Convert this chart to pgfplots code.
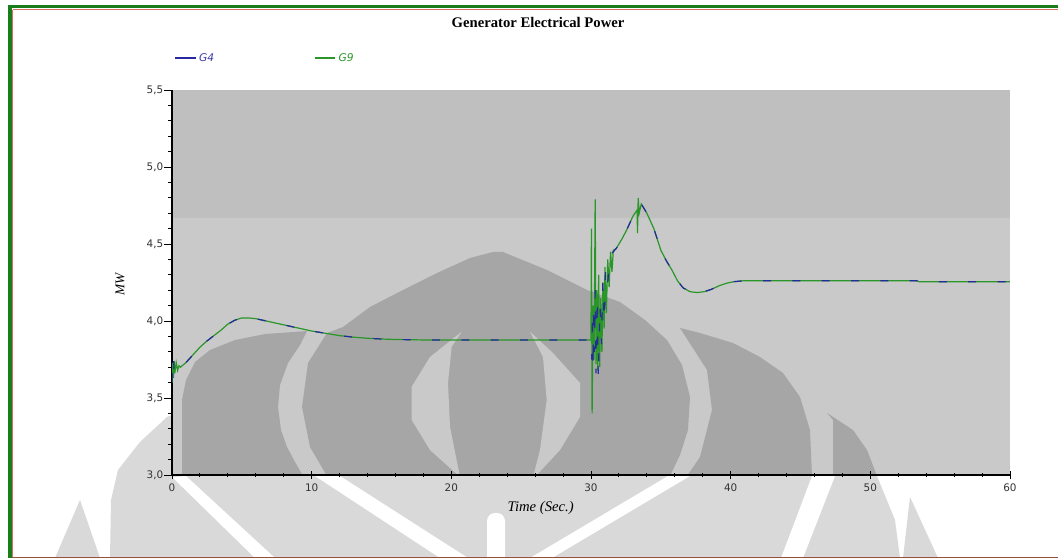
\documentclass[border=0pt]{standalone}
\usepackage{pgfplots}
\pgfplotsset{compat=1.18}
\usepackage{fontspec}
\newfontfamily\dvs{DejaVu Sans}
\newfontfamily\lser{Liberation Serif}
\definecolor{g4blue}{RGB}{40,40,160}
\definecolor{g4text}{RGB}{60,60,170}
\definecolor{g9green}{RGB}{40,150,40}
\definecolor{bgup}{RGB}{191,191,191}
\definecolor{bglow}{RGB}{201,201,201}
\definecolor{logodark}{RGB}{166,166,166}
\definecolor{logolight}{RGB}{217,217,217}
\definecolor{framegreen}{RGB}{25,125,25}
\definecolor{framered}{RGB}{215,110,95}
\definecolor{framebrown}{RGB}{150,80,60}

\begin{document}
\begin{tikzpicture}
\path[use as bounding box, fill=white] (0,0) rectangle (793.5pt,418.5pt);
\begin{scope}[shift={(0pt,418.5pt)}, x=0.75pt, y=-0.75pt]
  % watermark outside the plot area (light grey on white)
  \fill[logolight] (110,558) -- (111,500) -- (118,470) -- (140,442) -- (167,417) -- (172,415) -- (172,476)
     -- (877,476) -- (895,520) -- (900,558) -- cycle;
  \fill[logolight] (80,500) -- (100,558) -- (55,558) -- cycle;
  \fill[logolight] (910,497) -- (938,558) -- (903,558) -- cycle;
  \fill[white] (172,477) -- (186,476) -- (275,558) -- (255,558) -- cycle;
  \fill[white] (315,476) -- (340,476) -- (468,558) -- (440,558) -- cycle;
  \fill[white] (668,476) -- (690,476) -- (552,558) -- (530,558) -- cycle;
  \fill[white] (812,476) -- (835,476) -- (803,558) -- (781,558) -- cycle;
  \fill[white, rounded corners=6pt] (487,513) rectangle (505,575);
  % plot background
  \fill[bglow] (172,218) rectangle (1010,475);
  \fill[bgup] (172,90) rectangle (1010,218);
  % watermark inside the plot area (dark grey)
  \begin{scope}
    \clip (172,90) rectangle (1010,475);
    \fill[logodark] (182,476) -- (182,400) -- (186,380) -- (195,362) -- (210,350) -- (235,340) -- (265,334) -- (307,331)
       -- (300,345) -- (288,363) -- (280,385) -- (278,407) -- (281,430) -- (287,447) -- (295,462) -- (303,476) -- cycle;
    \fill[logodark] (327,476) -- (310,447) -- (302,407) -- (308,363) -- (327,333) -- (343,327) -- (370,307) -- (403,290)
       -- (437,273) -- (470,258) -- (493,252) -- (503,252) -- (547,270) -- (587,290) -- (620,302) -- (645,320)
       -- (667,340) -- (682,365) -- (690,397) -- (688,430) -- (680,455) -- (670,476) -- cycle;
    \fill[logodark] (687,476) -- (700,457) -- (712,410) -- (707,370) -- (680,328) -- (700,333) -- (733,343) -- (760,357)
       -- (783,373) -- (800,397) -- (810,430) -- (812,476) -- cycle;
    \fill[logodark] (833,476) -- (833,420) -- (827,413) -- (853,430) -- (867,450) -- (877,476) -- cycle;
    \fill[bglow] (461.7,331.7) -- (430,357) -- (411.7,386.7) -- (411.7,420) -- (430,450) -- (460,477)
       -- (450,426.7) -- (448,383) -- (451.7,346.7) -- cycle;
    \fill[bglow] (530,331.7) -- (553,353) -- (580,383) -- (580,417) -- (560,450) -- (535,477) -- (533,477)
       -- (540,450) -- (546.7,400) -- (543,357) -- cycle;
  \end{scope}
  % frame
  \draw[framegreen, line width=2.25pt] (8,6.5) -- (1058,6.5);
  \draw[framegreen, line width=2.6pt] (10,5) -- (10,558);
  \draw[framered, line width=0.6pt] (12.6,9.6) -- (1058,9.6);
  \draw[framered, line width=0.6pt] (12.6,9.6) -- (12.6,558);
  \draw[framebrown, line width=1pt] (12,557.3) -- (1058,557.3);
\end{scope}

\begin{axis}[
  at={(129pt,62.25pt)}, anchor=south west,
  scale only axis, width=628.5pt, height=288.75pt,
  xmin=0, xmax=60, ymin=3, ymax=5.5,
  axis x line*=bottom, axis y line*=left,
  axis line style={black, line width=0.8pt, -},
  xtick={0,10,20,30,40,50,60},
  ytick={3,3.5,4,4.5,5,5.5},
  minor x tick num=4, minor y tick num=4,
  xtick align=center, ytick align=outside,
  major tick length=6pt, minor tick length=3pt,
  tick style={black, line width=0.7pt},
  /pgf/number format/assume math mode=true,
  xticklabel style={font=\dvs\fontsize{7.8}{9}\selectfont, text=black!80},
  yticklabel style={font=\dvs\fontsize{7.8}{9}\selectfont, text=black!80, xshift=3pt,
     /pgf/number format/.cd, fixed, fixed zerofill, precision=1, use comma},
  title={Generator Electrical Power},
  title style={at={(axis description cs:0.4368,1.142)}, anchor=base, yshift=0pt,
     font=\lser\bfseries\fontsize{11}{13}\selectfont},
  xlabel={Time (Sec.)},
  xlabel style={at={(axis description cs:0.44,-0.0857)}, anchor=center,
     font=\lser\itshape\fontsize{11}{13}\selectfont},
  ylabel={MW},
  ylabel style={at={(axis description cs:-0.062,0.494)}, anchor=center,
     font=\lser\itshape\fontsize{10}{12}\selectfont},
  legend style={draw=none, fill=none, at={(axis description cs:-0.002,1.083)}, anchor=west,
     legend columns=2, font=\dvs\itshape\fontsize{8}{9}\selectfont,
     /tikz/every even column/.append style={column sep=73pt}},
  legend image code/.code={\draw[#1] (0pt,0pt) -- (15.5pt,0pt);},
  legend image post style={solid},
]
% G9 (green) drawn first
\addplot[g9green, line width=0.9pt, forget plot] coordinates {
(0,3.60) (0.05,3.73) (0.1,3.63) (0.15,3.74) (0.2,3.66) (0.3,3.73) (0.4,3.68) (0.5,3.71) (0.6,3.70)
(1.0,3.73) (1.5,3.78) (2.0,3.83) (2.5,3.87) (3.0,3.905) (3.5,3.94) (4.0,3.98) (4.5,4.005) (5.0,4.02)
(5.5,4.02) (6.0,4.015) (7.0,3.995) (8.0,3.975) (9.0,3.955) (10.0,3.935) (11.0,3.92) (12.0,3.905)
(13.0,3.895) (14.0,3.888) (15.0,3.883) (16.0,3.88) (18.0,3.877) (30.0,3.877)
(30.03,4.60) (30.08,3.40) (30.15,4.10) (30.22,3.75) (30.3,4.79) (30.36,3.72) (30.42,4.20) (30.48,3.68)
(30.55,4.30) (30.62,3.70) (30.7,4.15) (30.78,3.80) (30.86,4.25) (30.94,3.95) (31.0,4.35) (31.1,4.05)
(31.2,4.40) (31.3,4.22) (31.4,4.45) (31.5,4.32) (31.6,4.46) (31.8,4.47) (32.2,4.53) (32.55,4.59)
(33.0,4.68) (33.3,4.72) (33.33,4.57) (33.38,4.80) (33.45,4.70) (33.6,4.76) (34.0,4.70) (34.5,4.60)
(35.0,4.46) (35.4,4.39) (35.8,4.33) (36.2,4.26) (36.6,4.215) (37.1,4.19) (37.6,4.185) (38.1,4.19)
(38.6,4.205) (39.2,4.23) (39.7,4.245) (40.2,4.255) (41.0,4.262) (53.3,4.262) (53.5,4.255) (60.0,4.255)
};
% G4 (blue), visible as dashes over the green
\addplot[g4blue, line width=0.9pt, dash pattern=on 6pt off 16pt, forget plot] coordinates {
(0,3.61) (0.05,3.70) (0.1,3.77) (0.15,3.68) (0.25,3.72) (0.4,3.70) (0.6,3.71)
(1.0,3.73) (1.5,3.78) (2.0,3.83) (2.5,3.87) (3.0,3.905) (3.5,3.94) (4.0,3.98) (4.5,4.005) (5.0,4.02)
(5.5,4.02) (6.0,4.015) (7.0,3.995) (8.0,3.975) (9.0,3.955) (10.0,3.935) (11.0,3.92) (12.0,3.905)
(13.0,3.895) (14.0,3.888) (15.0,3.883) (16.0,3.88) (18.0,3.877) (30.0,3.877)
(30.05,3.75) (30.1,4.05) (30.15,3.70) (30.2,4.10) (30.25,3.80) (30.3,4.20) (30.35,3.66) (30.45,4.15)
(30.52,3.63) (30.65,4.10) (30.75,3.85) (30.85,4.25) (30.95,4.00) (31.05,4.35) (31.2,4.25) (31.35,4.42)
(31.5,4.44) (31.8,4.47) (32.2,4.53) (32.55,4.59) (33.0,4.68) (33.3,4.72) (33.6,4.76) (34.0,4.70)
(34.5,4.60) (35.0,4.46) (35.4,4.39) (35.8,4.33) (36.2,4.26) (36.6,4.215) (37.1,4.19) (37.6,4.185)
(38.1,4.19) (38.6,4.205) (39.2,4.23) (39.7,4.245) (40.2,4.255) (41.0,4.262) (53.3,4.262) (53.5,4.255) (60.0,4.255)
};
\addlegendimage{g4blue, line width=0.9pt}
\addlegendentry{\textcolor{g4text}{G4}}
\addlegendimage{g9green, line width=0.9pt}
\addlegendentry{\textcolor{g9green}{G9}}
\end{axis}
\end{tikzpicture}
\end{document}
